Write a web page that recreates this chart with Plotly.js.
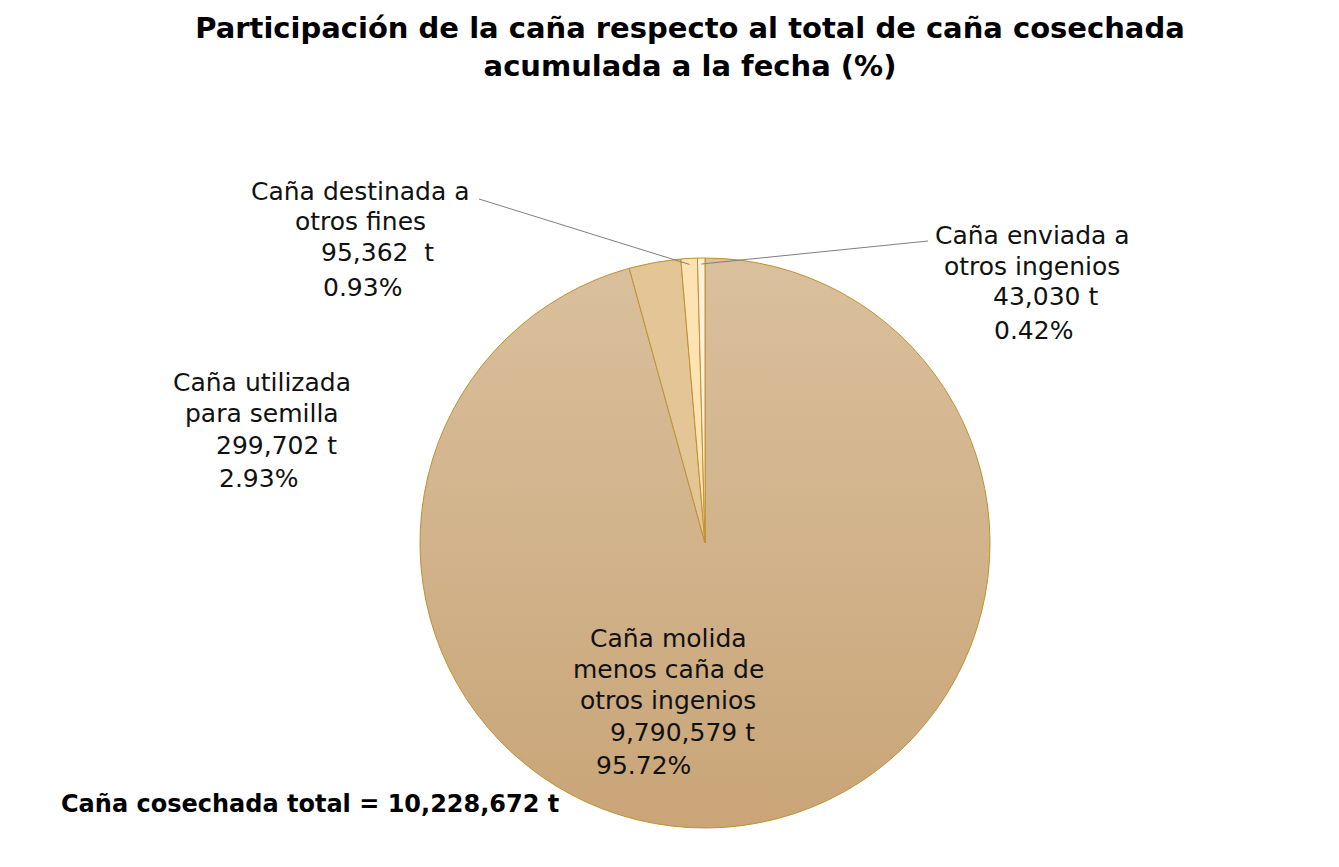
<!DOCTYPE html>
<html>
<head>
<meta charset="utf-8">
<script src="https://cdn.plot.ly/plotly-3.0.1.min.js"></script>
<style>
  html, body { margin: 0; padding: 0; background: #ffffff; }
  #chart { width: 1339px; height: 867px; }
</style>
</head>
<body>
<div id="chart"></div>
<script>
// ---------- DATA ----------
const categories = [
  'Caña molida menos caña de otros ingenios',
  'Caña utilizada para semilla',
  'Caña destinada a otros fines',
  'Caña enviada a otros ingenios'
];
const labelLines = [
  ['Caña molida', 'menos caña de', 'otros ingenios'],
  ['Caña utilizada', 'para semilla'],
  ['Caña destinada a', 'otros fines'],
  ['Caña enviada a', 'otros ingenios']
];
const tonnes = [9790579, 299702, 95362, 43030];
const percents = [95.72, 2.93, 0.93, 0.42];
const totalTonnes = 10228672;
const titleText = 'Participación de la caña respecto al total de caña cosechada<br>acumulada a la fecha (%)';
const totalLabel = 'Caña cosechada total = ';

// ---------- STYLE / LAYOUT ----------
const W = 1339, H = 867;
const FONT = 'DejaVu Sans, Noto Sans, sans-serif';
const sliceColors = ['rgba(0,0,0,0)', '#e4c596', '#fde2b3', '#fff0dc'];
const edgeColor = '#bf9230';
const pie = { cx: 705, cy: 543, r: 285 };
// label placement (pixels): name-line centres, value/percent left edge
const labelPos = [
  { nx: 668, ny: [638, 669, 700], vx: 608, vy: 732, px: 594, py: 765 },
  { nx: 262, ny: [382, 413], vx: 214, vy: 445, px: 217, py: 478 },
  { nx: 360, ny: [191, 222], vx: 319, vy: 253, px: 321, py: 287 },
  { nx: 1032, ny: [235, 266], vx: 991, vy: 297, px: 992, py: 330 }
];
// leader line start points (pixels) for slices drawn with a leader (null = none)
const leaderStart = [null, null, { x: 479, y: 199 }, { x: 928, y: 241 }];
const unitSep = [' ', ' ', '\u00a0\u00a0', ' '];

const fmt = n => n.toLocaleString('en-US');
const px = x => x / W;
const py = y => 1 - y / H;

const labelFont = { family: FONT, size: 25, color: '#111111' };
const annotations = [];
const ann = (x, y, text, xanchor, font) => annotations.push({
  xref: 'paper', yref: 'paper', x: px(x), y: py(y),
  xanchor: xanchor, yanchor: 'middle', align: xanchor === 'center' ? 'center' : 'left',
  text: text, showarrow: false, font: font
});
labelLines.forEach((lines, i) => {
  const p = labelPos[i];
  lines.forEach((ln, k) => ann(p.nx, p.ny[k], ln, 'center', labelFont));
  ann(p.vx, p.vy, fmt(tonnes[i]) + unitSep[i] + 't', 'left', labelFont);
  ann(p.px, p.py, percents[i].toFixed(2) + '%', 'left', labelFont);
});
ann(59, 804, '<b>' + totalLabel + fmt(totalTonnes) + ' t</b>', 'left',
  { family: FONT, size: 24, color: '#000000' });

// leader lines: tip computed from slice mid-angle (clockwise from 12 o'clock)
const sum = tonnes.reduce((a, b) => a + b, 0);
let cum = 0;
const shapes = [];
tonnes.forEach((v, i) => {
  const mid = (cum + v / 2) / sum;
  cum += v;
  const s = leaderStart[i];
  if (!s) return;
  const th = 2 * Math.PI * mid;
  const tx = pie.cx + (pie.r - 6) * Math.sin(th);
  const ty = pie.cy - (pie.r - 6) * Math.cos(th);
  shapes.push({
    type: 'line', xref: 'paper', yref: 'paper',
    x0: px(s.x), y0: py(s.y), x1: px(tx), y1: py(ty),
    line: { color: '#7f7f7f', width: 1 }
  });
});

// subtle vertical gradient under the largest slice
const gradSvg = "<svg xmlns='http://www.w3.org/2000/svg' width='200' height='200'>" +
  "<defs><linearGradient id='g' x1='0' y1='0' x2='0' y2='1'>" +
  "<stop offset='0' stop-color='#dac09d'/><stop offset='1' stop-color='#c9a578'/>" +
  "</linearGradient></defs><circle cx='100' cy='100' r='100' fill='url(#g)'/></svg>";
const gradUri = 'data:image/svg+xml;charset=utf-8,' + encodeURIComponent(gradSvg);

const trace = {
  type: 'pie',
  labels: categories,
  values: tonnes,
  sort: false,
  direction: 'clockwise',
  rotation: 0,
  textinfo: 'none',
  hoverinfo: 'label+value+percent',
  marker: { colors: sliceColors, line: { color: edgeColor, width: 1 } },
  domain: { x: [px(pie.cx - pie.r), px(pie.cx + pie.r)], y: [py(pie.cy + pie.r), py(pie.cy - pie.r)] },
  showlegend: false
};

const layout = {
  width: W, height: H,
  margin: { l: 0, r: 0, t: 0, b: 0 },
  paper_bgcolor: '#ffffff',
  plot_bgcolor: '#ffffff',
  title: {
    text: '<b>' + titleText + '</b>',
    x: px(690), xanchor: 'center', y: py(38), yanchor: 'middle',
    font: { family: FONT, size: 29, color: '#000000' }
  },
  images: [{
    source: gradUri, xref: 'paper', yref: 'paper',
    x: px(pie.cx - pie.r), y: py(pie.cy - pie.r),
    sizex: 2 * pie.r / W, sizey: 2 * pie.r / H,
    xanchor: 'left', yanchor: 'top', sizing: 'stretch', layer: 'below'
  }],
  annotations: annotations,
  shapes: shapes,
  showlegend: false
};

Plotly.newPlot('chart', [trace], layout, { displayModeBar: false, staticPlot: true });
</script>
</body>
</html>
